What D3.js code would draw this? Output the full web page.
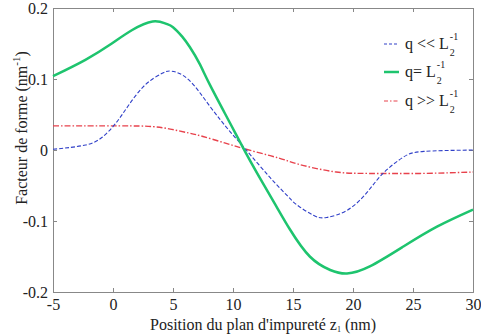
<!DOCTYPE html>
<html>
<head>
<meta charset="utf-8">
<script src="https://cdn.jsdelivr.net/npm/d3@7"></script>
<style>
  body { margin: 0; background: #fff; }
</style>
</head>
<body>
<div id="chart"></div>
<script>
const SERIF = '"Times New Roman", Times, serif';

const xTicks = [-5, 0, 5, 10, 15, 20, 25, 30];
const yTicks = [-0.2, -0.1, 0, 0.1, 0.2];

// q = L2^-1 (solid green)
const greenX = [-5, -2.3, -0.1, 1.6, 3.3, 4.4, 5.0, 5.75, 6.4, 7.2, 8.1, 9.75, 11.1, 12.5, 13.6, 14.75, 16.4, 18.1, 19.5, 21.4, 24.2, 27.0, 30];
const greenY = [0.104, 0.127, 0.150, 0.169, 0.181, 0.178, 0.173, 0.160, 0.145, 0.122, 0.091, 0.038, -0.005, -0.047, -0.079, -0.112, -0.150, -0.169, -0.174, -0.164, -0.136, -0.108, -0.084];

// q << L2^-1 (dashed blue)
const blueX = [-5, -2.3, -0.9, 0.2, 1.3, 2.7, 4.1, 4.9, 6.3, 8.1, 9.75, 11.1, 13.1, 14.5, 15.3, 16.7, 17.8, 19.5, 21.1, 22.5, 24.2, 25.9, 30];
const blueY = [0.001, 0.007, 0.018, 0.037, 0.063, 0.092, 0.108, 0.111, 0.099, 0.061, 0.026, 0, -0.039, -0.064, -0.077, -0.092, -0.095, -0.085, -0.061, -0.033, -0.010, -0.002, 0];

// q >> L2^-1 (dash-dot red)
const redX = [-5, 0.5, 3.3, 4.9, 6.3, 7.5, 9.3, 11.1, 13.1, 14.5, 15.9, 18.6, 21.4, 25.6, 30];
const redY = [0.034, 0.034, 0.033, 0.029, 0.024, 0.019, 0.010, 0.001, -0.008, -0.015, -0.022, -0.031, -0.033, -0.033, -0.031];

const W = 481, H = 335;
const margin = { left: 53, right: 8, top: 8, bottom: 43 };

const svg = d3.select('#chart').append('svg').attr('width', W).attr('height', H);

const x = d3.scaleLinear().domain([-5, 30]).range([margin.left, W - margin.right]);
const y = d3.scaleLinear().domain([-0.2, 0.2]).range([H - margin.bottom, margin.top]);

// plain hyphen for negatives, as in the original figure
const fmt = (d) => String(d);

// Box axes with inward ticks
const tickLen = 4;
svg.append('g')
  .attr('transform', `translate(0,${y(-0.2)})`)
  .call(d3.axisBottom(x).tickValues(xTicks).tickSize(-tickLen).tickPadding(7).tickFormat(fmt));
svg.append('g')
  .attr('transform', `translate(0,${y(0.2)})`)
  .call(d3.axisTop(x).tickValues(xTicks).tickSize(-tickLen).tickFormat(''));
svg.append('g')
  .attr('transform', `translate(${x(-5)},0)`)
  .call(d3.axisLeft(y).tickValues(yTicks).tickSize(-tickLen).tickPadding(5).tickFormat(fmt));
svg.append('g')
  .attr('transform', `translate(${x(30)},0)`)
  .call(d3.axisRight(y).tickValues(yTicks).tickSize(-tickLen).tickFormat(''));

svg.selectAll('.domain').attr('stroke', '#888').attr('stroke-width', 1);
svg.selectAll('.tick line').attr('stroke', '#888');
svg.selectAll('.tick text')
  .attr('font-size', 16)
  .attr('fill', '#222');

const line = d3.line()
  .x((d) => x(d[0]))
  .y((d) => y(d[1]))
  .curve(d3.curveNatural);

const series = [
  { xs: redX, ys: redY, color: '#e8424c', width: 1.4, dash: '6,2,1.5,2' },
  { xs: blueX, ys: blueY, color: '#3040c8', width: 1.1, dash: '4,2' },
  { xs: greenX, ys: greenY, color: '#1ec46e', width: 2.5, dash: null }
];

series.forEach((s) => {
  svg.append('path')
    .datum(s.xs.map((v, i) => [v, s.ys[i]]))
    .attr('fill', 'none')
    .attr('stroke', s.color)
    .attr('stroke-width', s.width)
    .attr('stroke-dasharray', s.dash)
    .attr('d', line);
});

// Legend
const legend = [
  { label: 'q << L', color: '#3040c8', width: 1.1, dash: '3,2', y: 44 },
  { label: 'q= L', color: '#1ec46e', width: 2.5, dash: null, y: 72 },
  { label: 'q >> L', color: '#e8424c', width: 1.1, dash: '4,2,1.5,2', y: 101 }
];
const lg = svg.append('g').attr('fill', '#222');
legend.forEach((l) => {
  lg.append('line')
    .attr('x1', 384).attr('x2', 399)
    .attr('y1', l.y).attr('y2', l.y)
    .attr('stroke', l.color)
    .attr('stroke-width', l.width)
    .attr('stroke-dasharray', l.dash);
  const t = lg.append('text')
    .attr('x', 405).attr('y', l.y + 5)
    .attr('font-size', 16)
    .style('font-family', SERIF)
    .text(l.label);
  const w = t.node().getComputedTextLength();
  lg.append('text')
    .attr('x', 405 + w + 1).attr('y', l.y - 4)
    .attr('font-size', 10)
    .text('-1');
  lg.append('text')
    .attr('x', 405 + w + 1).attr('y', l.y + 12)
    .attr('font-size', 10)
    .text('2');
});

// Axis titles
const xt = svg.append('text')
  .attr('x', x(12.5)).attr('y', 330)
  .attr('text-anchor', 'middle')
  .attr('font-size', 16)
  .attr('fill', '#222');
xt.append('tspan').text("Position du plan d'impureté z");
xt.append('tspan').attr('font-size', 8).attr('dy', 2).text('1');
xt.append('tspan').attr('dy', -2).text(' (nm)');

const yt = svg.append('text')
  .attr('transform', 'translate(27,128) rotate(-90)')
  .attr('text-anchor', 'middle')
  .attr('font-size', 16)
  .attr('fill', '#222');
yt.append('tspan').text('Facteur de forme (nm');
yt.append('tspan').attr('font-size', 11).attr('dy', -7).text('-1');
yt.append('tspan').attr('dy', 7).text(')');

svg.selectAll('text').style('font-family', SERIF);
</script>
</body>
</html>
